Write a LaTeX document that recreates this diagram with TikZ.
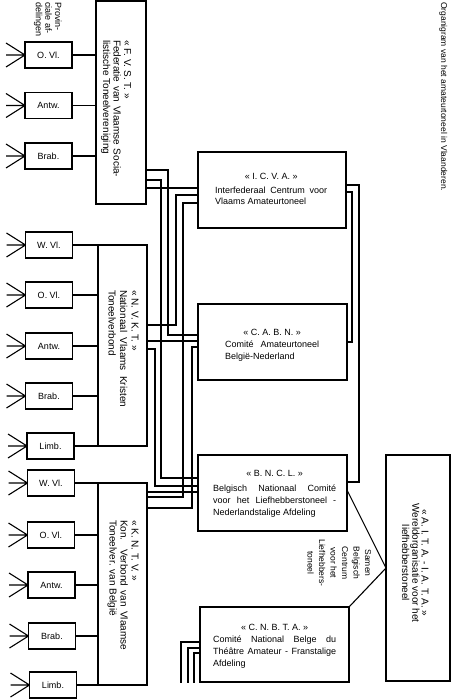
\documentclass[tikz,border=0pt]{standalone}
\usepackage{fontspec}
\setmainfont{Liberation Sans}
\begin{document}
\begin{tikzpicture}[x=1pt,y=-1pt,
  box/.style={draw, line width=1.1pt, inner sep=0pt, outer sep=0pt},
  bigbox/.style={box, anchor=north west},
  prov/.style={box, minimum width=47pt, minimum height=26pt, font=\fontsize{9}{11}\selectfont},
  conn/.style={line width=1.1pt},
  rtext/.style={rotate=-90, anchor=base west, inner sep=0pt, align=left},
  ctext/.style={rotate=-90, anchor=base, inner sep=0pt, align=center},
  htext/.style={anchor=base west, inner sep=0pt, align=left, font=\fontsize{9}{11.8}\selectfont}]
\useasboundingbox (0,0) rectangle (451,700);
\fill[white] (0,0) rectangle (451,700);

% caption and heading (anchors sit on the baseline of the last line)
\node[rtext, font=\fontsize{8.5}{10}\selectfont] (cap) at (441,2) {Organigram van het amateurtoneel in Vlaanderen.};
\node[rtext, font=\fontsize{9}{9.6}\selectfont] (provhead) at (35.8,2) {Provin-\\ciale af-\\delingen};

% federations
\node[bigbox, minimum width=50pt, minimum height=203pt] (fvst) at (96,1) {};
\node[bigbox, minimum width=49pt, minimum height=201pt] (nvkt) at (98,245) {};
\node[bigbox, minimum width=49pt, minimum height=202pt] (kntv) at (98,483) {};

\node[rtext, font=\fontsize{10}{10.5}\selectfont] (fvstT) at (103,40)
  {« F. V. S. T. »\\ \makebox[137pt][s]{Federatie van Vlaamse Socia-}\\ listische Toneelvereniging};
\node[rtext, font=\fontsize{10}{11.5}\selectfont] (nvktT) at (108.5,290)
  {« N. V. K. T. »\\ \makebox[117pt][s]{Nationaal Vlaams Kristen}\\ Toneelverbond};
\node[rtext, font=\fontsize{10}{11}\selectfont] (kntvT) at (109.5,520)
  {« K. N. T. V. »\\ \makebox[130pt][s]{Kon. Verbond van Vlaamse}\\ Toneelver. van België};

% provincial sections
\node[prov] (f1) at (48.5,55) {O. Vl.};
\node[prov] (f2) at (48.5,105.5) {Antw.};
\node[prov] (f3) at (48.5,156) {Brab.};
\node[prov] (n1) at (49,245) {W. Vl.};
\node[prov] (n2) at (49,295) {O. Vl.};
\node[prov] (n3) at (49,346) {Antw.};
\node[prov] (n4) at (49,396) {Brab.};
\node[prov] (n5) at (50.5,446) {Limb.};
\node[prov] (k1) at (51,483) {W. Vl.};
\node[prov] (k2) at (51,535) {O. Vl.};
\node[prov] (k3) at (51.5,585) {Antw.};
\node[prov] (k4) at (52,636) {Brab.};
\node[prov] (k5) at (53,685) {Limb.};

\foreach \b in {f1,f2,f3,n1,n2,n3,n4,n5,k1,k2,k3,k4,k5}{
  \draw[conn] (\b.west) -- ++(-19,-12) (\b.west) -- ++(-19,0) (\b.west) -- ++(-19,12);
}
\foreach \b in {f1,f2,f3}{ \draw[conn] (\b.east) -- (fvst.west |- \b.east); }
\foreach \b in {n1,n2,n3,n4,n5}{ \draw[conn] (\b.east) -- (nvkt.west |- \b.east); }
\foreach \b in {k1,k2,k3,k4,k5}{ \draw[conn] (\b.east) -- (kntv.west |- \b.east); }

% central committees
\node[bigbox, minimum width=148pt, minimum height=76pt] (icva) at (198,152) {};
\node[bigbox, minimum width=149pt, minimum height=76pt] (cabn) at (198,304) {};
\node[bigbox, minimum width=149pt, minimum height=76pt] (bncl) at (198,455) {};
\node[bigbox, minimum width=149pt, minimum height=75pt] (cnbta) at (200,607) {};
\node[bigbox, minimum width=64pt, minimum height=226pt] (aita) at (386,455) {};

\node[htext] (icvaT) at (215,205)
  {\makebox[112pt]{« I. C. V. A. »}\\[2pt] \makebox[112pt][s]{Interfederaal Centrum voor}\\ Vlaams Amateurtoneel};
\node[htext] (cabnT) at (225,359)
  {\makebox[94pt]{« C. A. B. N. »}\\ \makebox[94pt][s]{Comité Amateurtoneel}\\ België-Nederland};
\node[htext] (bnclT) at (213,515)
  {\makebox[123pt]{« B. N. C. L. »}\\[3pt] \makebox[123pt][s]{Belgisch Nationaal Comité}\\ \makebox[123pt][s]{voor het Liefhebberstoneel -}\\ Nederlandstalige Afdeling};
\node[htext] (cnbtaT) at (213,666)
  {\makebox[123pt]{« C. N. B. T. A. »}\\ \makebox[123pt][s]{Comité National Belge du}\\ \makebox[123pt][s]{Théâtre Amateur - Franstalige}\\ Afdeling};

\node[ctext, font=\fontsize{10}{9.2}\selectfont] (aitaT) at (402,563)
  {« A. I. T. A. - I. A. T. A. »\\ Wereldorganisatie voor het\\ liefhebberstoneel};
\node[ctext, font=\fontsize{8.5}{11.5}\selectfont] (samen) at (307.5,563)
  {Samen\\ Belgisch\\ Centrum\\ voor het\\ Liefhebbers-\\ toneel};

% connectors federations -> committees
\draw[conn] (fvst.east |- 0,188) -- (icva.west |- 0,188);
\draw[conn] (fvst.east |- 0,170) -| (168,335) -- (cabn.west |- 0,335);
\draw[conn] (fvst.east |- 0,180) -| (161,478) -- (bncl.west |- 0,478);
\draw[conn] (nvkt.east |- 0,325) -| (176,195) -- (icva.west |- 0,195);
\draw[conn] (nvkt.east |- 0,341) -- (cabn.west |- 0,341);
\draw[conn] (nvkt.east |- 0,349) -| (155,486) -- (bncl.west |- 0,486);
\draw[conn] (kntv.east |- 0,497) -| (183,203) -- (icva.west |- 0,203);
\draw[conn] (kntv.east |- 0,508) -| (192,347) -- (cabn.west |- 0,347);
\draw[conn] (kntv.east |- 0,492) -- (bncl.west |- 0,492);

% right side links
\draw[conn] (icva.east |- 0,192) -| (352,342) -- (cabn.east |- 0,342);
\draw[conn] (icva.east |- 0,185) -| (359,482) -- (bncl.east |- 0,482);
\coordinate (tip) at (aita.west |- 0,568);
\draw[conn] (bncl.east |- 0,490) -- (tip) -- (cnbta.north east);

% stubs of CNBTA
\draw[conn] (cnbta.west |- 0,642) -| (181,683);
\draw[conn] (cnbta.west |- 0,648) -| (188,683);
\draw[conn] (cnbta.west |- 0,653) -| (194,683);
\end{tikzpicture}
\end{document}
